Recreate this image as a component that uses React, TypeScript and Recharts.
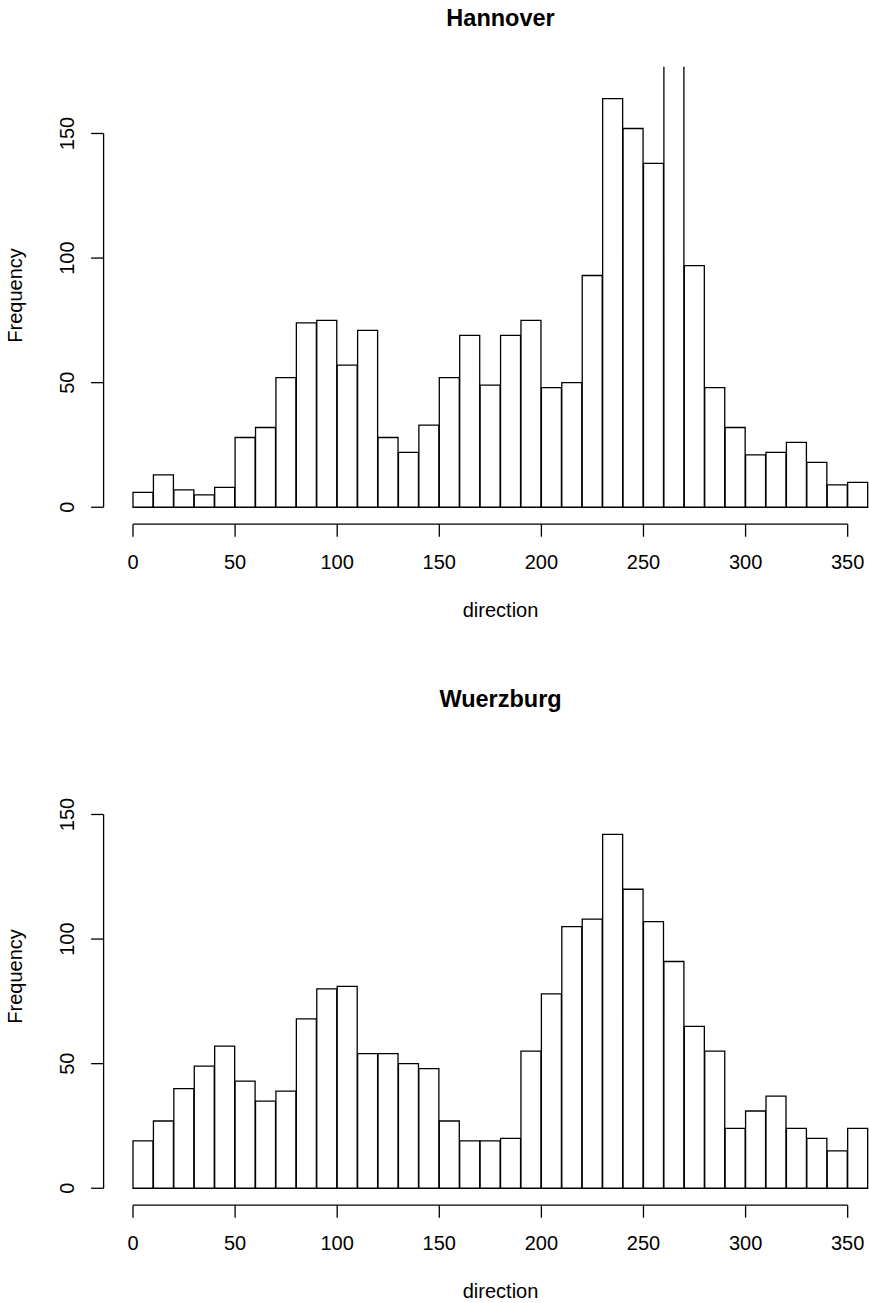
import { ComposedChart, Bar, XAxis, YAxis, ReferenceLine } from 'recharts';

// Histogram bins: left edge of each 10-degree bin
const BIN_STARTS = [
  0, 10, 20, 30, 40, 50, 60, 70, 80, 90, 100, 110, 120, 130, 140, 150, 160, 170,
  180, 190, 200, 210, 220, 230, 240, 250, 260, 270, 280, 290, 300, 310, 320, 330, 340, 350,
];

const HANNOVER_COUNTS = [
  6, 13, 7, 5, 8, 28, 32, 52, 74, 75, 57, 71, 28, 22, 33, 52, 69, 49,
  69, 75, 48, 50, 93, 164, 152, 138, 178, 97, 48, 32, 21, 22, 26, 18, 9, 10,
];

const WUERZBURG_COUNTS = [
  19, 27, 40, 49, 57, 43, 35, 39, 68, 80, 81, 54, 54, 50, 48, 27, 19, 19,
  20, 55, 78, 105, 108, 142, 120, 107, 91, 65, 55, 24, 31, 37, 24, 20, 15, 24,
];

const X_TICKS = [0, 50, 100, 150, 200, 250, 300, 350];
const Y_TICKS = [0, 50, 100, 150];

// usr ranges with the usual 4% padding (x: 0..360, y: 0..170)
const X_DOMAIN: [number, number] = [-14.4, 374.4];
const Y_DOMAIN: [number, number] = [-6.8, 176.8];

const FONT = '"Liberation Sans", Arial, Helvetica, sans-serif';
const LINE_W = 1.3;

const PANEL_W = 900;
const PANEL_H = 681;
const PLOT_LEFT = 103.6;
const PLOT_RIGHT = 897.5;
const PLOT_TOP = 66.7;
const PLOT_BOTTOM = 524.2;
const Y_AXIS_W = 60;
const X_AXIS_H = 30;
const TICK_LEN = 12.5;

const XTick = (props: any) => {
  const { x, y, payload } = props;
  return (
    <text
      x={x}
      y={y + 25}
      textAnchor="middle"
      dominantBaseline="central"
      fontSize={20}
      fontFamily={FONT}
      fill="#000"
    >
      {payload.value}
    </text>
  );
};

const YTick = (props: any) => {
  const { x, y, payload } = props;
  const cx = x - 24.4;
  return (
    <text
      x={cx}
      y={y}
      transform={`rotate(-90, ${cx}, ${y})`}
      textAnchor="middle"
      dominantBaseline="central"
      fontSize={20}
      fontFamily={FONT}
      fill="#000"
    >
      {payload.value}
    </text>
  );
};

function Histogram({ title, counts, top }: { title: string; counts: number[]; top: number }) {
  const data = BIN_STARTS.map((start, i) => ({ mid: start + 5, count: counts[i] }));
  const centerX = (PLOT_LEFT + PLOT_RIGHT) / 2;
  const centerY = (PLOT_TOP + PLOT_BOTTOM) / 2;

  return (
    <div style={{ position: 'absolute', left: 0, top, width: PANEL_W, height: PANEL_H }}>
      <ComposedChart
        width={PANEL_W}
        height={PANEL_H}
        data={data}
        margin={{
          top: PLOT_TOP,
          left: PLOT_LEFT - Y_AXIS_W,
          right: PANEL_W - PLOT_RIGHT,
          bottom: PANEL_H - PLOT_BOTTOM - X_AXIS_H,
        }}
        barGap={0}
        barCategoryGap={0}
      >
        <XAxis
          type="number"
          dataKey="mid"
          domain={X_DOMAIN}
          ticks={X_TICKS}
          allowDataOverflow
          axisLine={false}
          tickLine={{ stroke: '#000', strokeWidth: LINE_W }}
          tickSize={TICK_LEN}
          tickMargin={0}
          tick={<XTick />}
          height={X_AXIS_H}
          interval={0}
        />
        <YAxis
          type="number"
          domain={Y_DOMAIN}
          ticks={Y_TICKS}
          allowDataOverflow
          axisLine={false}
          tickLine={{ stroke: '#000', strokeWidth: LINE_W }}
          tickSize={TICK_LEN}
          tickMargin={0}
          tick={<YTick />}
          width={Y_AXIS_W}
          interval={0}
        />
        <Bar
          dataKey="count"
          fill="#fff"
          stroke="#000"
          strokeWidth={LINE_W}
          isAnimationActive={false}
        />
        {/* axis lines only span the tick range */}
        <ReferenceLine
          segment={[{ x: 0, y: Y_DOMAIN[0] }, { x: 350, y: Y_DOMAIN[0] }]}
          stroke="#000"
          strokeWidth={LINE_W}
          ifOverflow="visible"
        />
        <ReferenceLine
          segment={[{ x: X_DOMAIN[0], y: 0 }, { x: X_DOMAIN[0], y: 150 }]}
          stroke="#000"
          strokeWidth={LINE_W}
          ifOverflow="visible"
        />
      </ComposedChart>
      <svg
        width={PANEL_W}
        height={PANEL_H}
        style={{ position: 'absolute', left: 0, top: 0, pointerEvents: 'none' }}
      >
        <text x={centerX} y={26} textAnchor="middle" fontSize={23.5} fontWeight="bold" fontFamily={FONT} fill="#000">
          {title}
        </text>
        <text x={centerX} y={616.7} textAnchor="middle" fontSize={20} fontFamily={FONT} fill="#000">
          direction
        </text>
        <text
          x={22}
          y={centerY}
          transform={`rotate(-90, 22, ${centerY})`}
          textAnchor="middle"
          fontSize={20}
          fontFamily={FONT}
          fill="#000"
        >
          Frequency
        </text>
      </svg>
    </div>
  );
}

export default function App() {
  return (
    <div
      style={{
        position: 'absolute',
        left: 0,
        top: 0,
        width: 869,
        height: 1303,
        overflow: 'hidden',
        background: '#fff',
      }}
    >
      <Histogram title="Hannover" counts={HANNOVER_COUNTS} top={0} />
      <Histogram title="Wuerzburg" counts={WUERZBURG_COUNTS} top={PANEL_H} />
    </div>
  );
}
